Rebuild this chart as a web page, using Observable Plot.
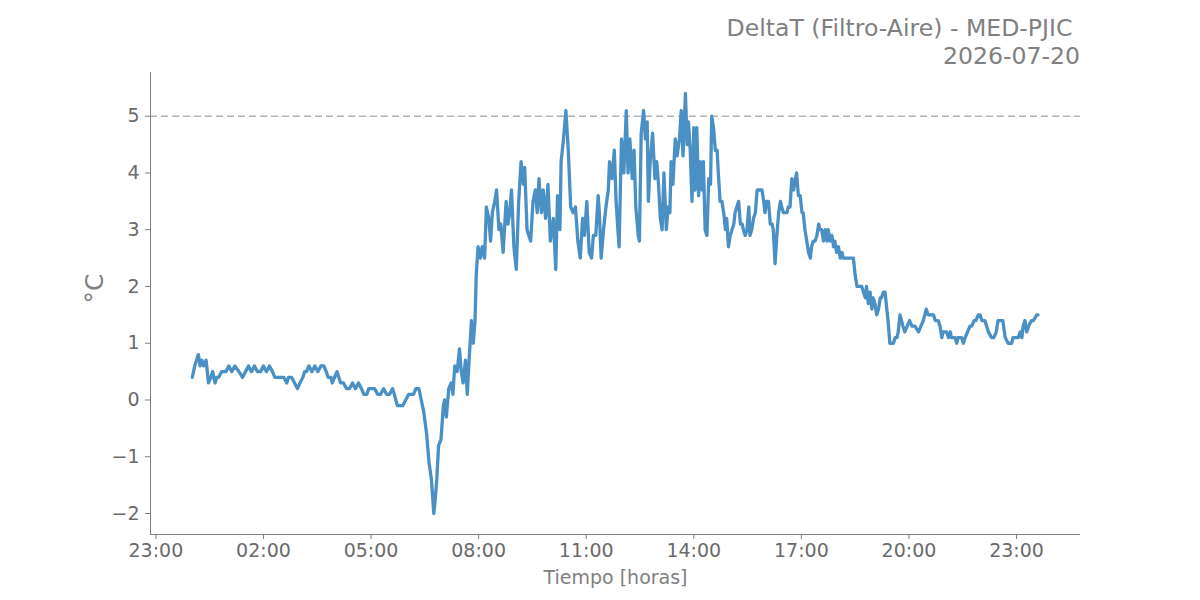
<!DOCTYPE html>
<html>
<head>
<meta charset="utf-8">
<script src="https://cdn.jsdelivr.net/npm/d3@7"></script>
<script src="https://cdn.jsdelivr.net/npm/@observablehq/plot@0.6"></script>
<style>
  html, body { margin: 0; padding: 0; background: #fff; }
  #wrap { position: relative; width: 1200px; height: 600px; font-family: "DejaVu Sans", sans-serif; }
  #title { position: absolute; right: 120px; top: 14px; text-align: right; color: #808080; font-size: 23.6px; line-height: 28px; white-space: pre; }
  #chart { position: absolute; left: 0; top: 0; }
</style>
</head>
<body>
<div id="wrap">
  <div id="chart"></div>
  <div id="title">DeltaT (Filtro-Aire) - MED-PJIC 
2026-07-20</div>
</div>
<script>
const titleText = "DeltaT (Filtro-Aire) - MED-PJIC";
const dateText = "2026-07-20";
const xLabel = "Tiempo [horas]";
const yLabel = "°C";
const threshold = 5;
const yTicks = [-2, -1, 0, 1, 2, 3, 4, 5];
const xTickLabels = ["23:00","02:00","05:00","08:00","11:00","14:00","17:00","20:00","23:00"];

const times = [
"00:01","00:05","00:11","00:14","00:17","00:20","00:24","00:28","00:32","00:35","00:39","00:42","00:45","00:50","00:57",
"01:02","01:07","01:12","01:19","01:25","01:30","01:35","01:40","01:45","01:50","01:55",
"02:00","02:05","02:10","02:15","02:19","02:24","02:29","02:34","02:39","02:42","02:47","02:52","02:57",
"03:01","03:06","03:09","03:12","03:16","03:21","03:26","03:31","03:36","03:41","03:45","03:48","03:53","03:55","03:59",
"04:03","04:06","04:09","04:14","04:19","04:24","04:29","04:34","04:39","04:44","04:48","04:53","04:56",
"05:01","05:06","05:11","05:16","05:21","05:26","05:31","05:36","05:39","05:44","05:50","05:53","05:58",
"06:03","06:08","06:11","06:15","06:20","06:24","06:28","06:33","06:37","06:41","06:43","06:45","06:47","06:50","06:53","06:57",
"07:01","07:03","07:06","07:10","07:14","07:17","07:20","07:24","07:28","07:31","07:34","07:38","07:41","07:44","07:48","07:51","07:54","07:56","07:59",
"08:03","08:06","08:10","08:13","08:17","08:20","08:23","08:27","08:30","08:34","08:37","08:41","08:46","08:49","08:52","08:55","08:59",
"09:03","09:07","09:11","09:15","09:17","09:21","09:24","09:27","09:31","09:35","09:38","09:41","09:45","09:48","09:52","09:56",
"10:00","10:05","10:09","10:12","10:16","10:18","10:22","10:26","10:30","10:34","10:38","10:42","10:46","10:50","10:54","10:57",
"11:01","11:05","11:09","11:12","11:16","11:20","11:22","11:25","11:29","11:33","11:37","11:39","11:43","11:47","11:50","11:53","11:55","11:59",
"12:03","12:07","12:10","12:13","12:17","12:20","12:23","12:27","12:29","12:32","12:36","12:39","12:42","12:44","12:47","12:51","12:55","12:58",
"13:01","13:04","13:07","13:10","13:14","13:17","13:20","13:22","13:25","13:29","13:32","13:36","13:39","13:42","13:46","13:49","13:51","13:54","13:57",
"14:00","14:02","14:05","14:08","14:11","14:14","14:16","14:19","14:22","14:25","14:28","14:30","14:33","14:36","14:39","14:41","14:44","14:47","14:50","14:53","14:55","14:58",
"15:01","15:04","15:07","15:09","15:12","15:15","15:18","15:21","15:23","15:26","15:29","15:32","15:34","15:37","15:40","15:43","15:46","15:48","15:54","15:57","15:59",
"16:02","16:05","16:08","16:11","16:13","16:16","16:19","16:22","16:25","16:27","16:30","16:36","16:38","16:41","16:44","16:47","16:50","16:52","16:55","16:58",
"17:01","17:03","17:06","17:09","17:12","17:15","17:17","17:20","17:23","17:26","17:29","17:31","17:34","17:37","17:40","17:43","17:45","17:48","17:51","17:54","17:56","17:59",
"18:02","18:05","18:08","18:10","18:13","18:19","18:24","18:27","18:30","18:33","18:41","18:44","18:47","18:49","18:52","18:55","18:58",
"19:00","19:03","19:06","19:09","19:12","19:14","19:17","19:20","19:23","19:25","19:28","19:34","19:37","19:40","19:42","19:45","19:50","19:53","19:57",
"20:01","20:05","20:10","20:16","20:20","20:24","20:29","20:32","20:36","20:41","20:44","20:46","20:49","20:52","20:55","20:57",
"21:03","21:06","21:09","21:11","21:17","21:20","21:22","21:28","21:31","21:34","21:38","21:42","21:45","21:49","21:52","21:56","21:59",
"22:02","22:07","22:10","22:13","22:18","22:22","22:26","22:29","22:32","22:37","22:41","22:46","22:52","22:54",
"23:03","23:06","23:09","23:11","23:14","23:17","23:20","23:25","23:28","23:34","23:36"
];

const deltaT = [
0.4,0.6,0.8,0.6,0.7,0.6,0.7,0.3,0.4,0.5,0.3,0.4,0.4,0.5,0.5,
0.6,0.5,0.6,0.5,0.4,0.5,0.6,0.5,0.6,0.5,0.5,
0.6,0.5,0.6,0.5,0.4,0.4,0.4,0.4,0.3,0.4,0.4,0.3,0.2,
0.3,0.4,0.5,0.5,0.6,0.5,0.6,0.5,0.6,0.6,0.5,0.4,0.4,0.3,0.4,
0.5,0.4,0.3,0.3,0.2,0.2,0.3,0.2,0.3,0.2,0.1,0.1,0.2,
0.2,0.2,0.1,0.1,0.2,0.1,0.1,0.2,0.1,-0.1,-0.1,-0.1,0.0,
0.1,0.1,0.1,0.2,0.2,0.0,-0.2,-0.6,-1.1,-1.4,-1.7,-2.0,-1.8,-1.4,-0.8,-0.7,
-0.1,0.0,-0.3,0.2,0.3,0.1,0.6,0.5,0.9,0.5,0.3,0.7,0.1,0.7,1.4,1.0,1.4,2.2,2.7,
2.5,2.7,2.5,3.4,3.2,2.8,3.3,3.5,3.7,3.0,3.1,2.6,3.5,3.1,3.3,3.7,2.7,
2.3,3.5,4.2,3.8,4.1,3.0,2.9,2.8,3.5,3.7,3.3,3.9,3.3,3.7,3.2,3.8,
2.8,3.2,2.3,3.6,3.0,4.2,4.6,5.1,4.4,3.4,3.3,3.4,2.8,2.5,3.2,2.9,
3.5,2.6,2.5,2.9,2.9,3.6,3.3,2.5,3.0,3.4,3.7,4.2,3.9,4.4,3.5,3.0,2.7,4.6,
4.0,5.1,4.0,4.6,3.9,4.4,3.4,2.9,2.8,4.7,5.1,4.6,4.9,3.5,4.2,4.7,3.9,4.2,
3.8,3.2,3.0,4.0,3.0,3.4,3.3,4.2,3.8,4.6,4.3,4.6,5.1,4.3,5.4,4.5,4.9,4.4,3.5,
4.8,3.7,4.8,3.6,4.2,3.7,4.2,3.0,2.9,3.9,3.8,5.0,4.8,4.4,4.4,4.0,3.5,3.5,3.3,3.0,3.2,2.7,
2.9,3.0,3.1,3.3,3.4,3.5,3.1,3.1,3.0,2.9,3.0,3.4,2.9,3.0,3.2,3.3,3.7,3.7,3.7,3.5,3.3,
3.5,3.5,3.1,3.1,3.0,2.4,2.9,3.3,3.5,3.4,3.3,3.3,3.4,3.4,3.9,3.7,3.9,4.0,3.6,3.6,
3.3,3.3,3.0,2.8,2.6,2.5,2.7,2.8,2.8,2.9,3.1,3.0,3.0,2.8,3.0,2.8,3.0,2.8,2.9,2.7,2.8,2.6,
2.7,2.5,2.6,2.5,2.5,2.5,2.5,2.5,2.2,2.0,2.0,1.9,1.8,2.0,1.7,1.9,1.6,
1.8,1.7,1.5,1.6,1.8,1.8,1.9,1.9,1.6,1.4,1.0,1.0,1.1,1.1,1.2,1.5,1.3,1.2,1.3,
1.4,1.3,1.3,1.2,1.3,1.4,1.6,1.5,1.5,1.5,1.4,1.4,1.4,1.3,1.1,1.2,
1.2,1.1,1.2,1.1,1.1,1.0,1.1,1.1,1.0,1.1,1.2,1.3,1.3,1.4,1.4,1.5,1.5,
1.4,1.4,1.3,1.2,1.1,1.1,1.2,1.4,1.4,1.4,1.1,1.0,1.0,1.1,
1.1,1.2,1.1,1.3,1.4,1.2,1.3,1.4,1.4,1.5,1.5
];

function toDate(hhmm, dayOffset) {
  const [h, m] = hhmm.split(":").map(Number);
  return new Date(Date.UTC(2026, 6, 20 + dayOffset, h, m));
}

const data = times.map((t, i) => ({time: toDate(t, 0), value: deltaT[i]}));

// tick dates: first 23:00 is the previous day, then every 3 hours
const xTicks = xTickLabels.map((lab, i) => new Date(Date.UTC(2026, 6, 19, 23) + i * 3 * 3600 * 1000));

const xDomain = [new Date(Date.UTC(2026, 6, 19, 22, 51)), new Date(Date.UTC(2026, 6, 21, 0, 47))];
const yDomain = [-2.37, 5.77];

const plot = Plot.plot({
  width: 1200,
  height: 600,
  marginLeft: 150,
  marginRight: 120,
  marginTop: 72,
  marginBottom: 66,
  style: {fontFamily: "DejaVu Sans, sans-serif", background: "#fff", overflow: "visible"},
  x: {type: "utc", domain: xDomain},
  y: {domain: yDomain},
  marks: [
    Plot.ruleY([threshold], {stroke: "#b3b3b3", strokeWidth: 1.5, strokeDasharray: "7,4"}),
    Plot.line(data, {x: "time", y: "value", stroke: "#4a90c4", strokeWidth: 3.3, strokeLinejoin: "round", strokeLinecap: "round"}),
    Plot.axisX({ticks: xTicks, tickFormat: (d, i) => xTickLabels[i], tickSize: 5, tickPadding: 4, fontSize: 19, color: "#6a6a6a", stroke: "#808080", label: null}),
    Plot.axisY({ticks: yTicks, tickFormat: d => d < 0 ? "\u2212" + Math.abs(d) : String(d), tickSize: 5, tickPadding: 6, fontSize: 19, color: "#6a6a6a", stroke: "#808080", label: null}),
    Plot.ruleX([xDomain[0]], {stroke: "#808080", strokeWidth: 1}),
    Plot.ruleY([yDomain[0]], {stroke: "#808080", strokeWidth: 1}),
    Plot.text([xLabel], {frameAnchor: "bottom", dy: 49, fontSize: 19, fill: "#808080", text: d => d}),
    Plot.text([yLabel], {frameAnchor: "left", dx: -56, rotate: -90, fontSize: 25, fill: "#808080", text: d => d})
  ]
});
document.getElementById("chart").appendChild(plot);
</script>
</body>
</html>
